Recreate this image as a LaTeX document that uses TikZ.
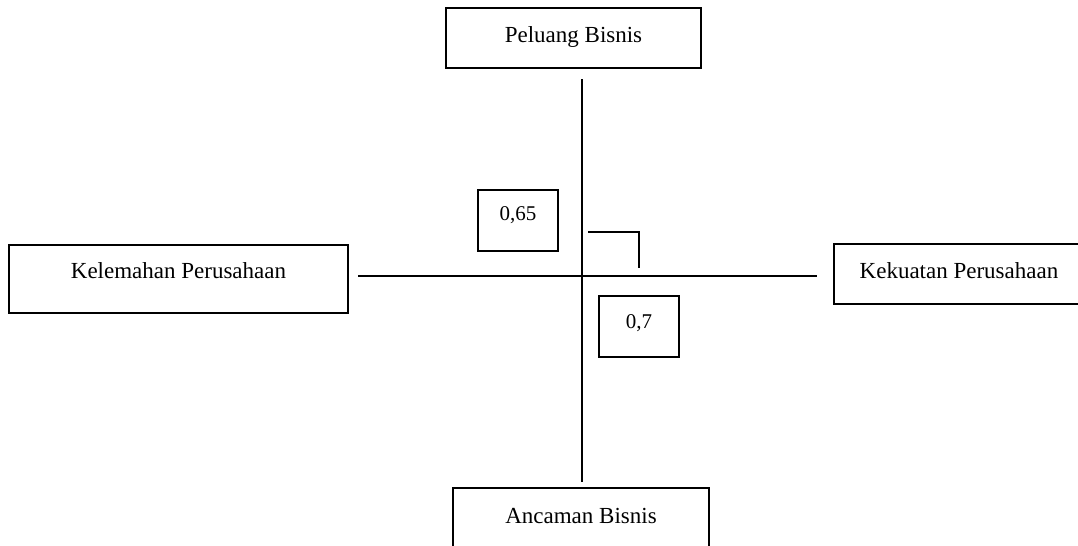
\documentclass[tikz,border=0pt]{standalone}
\usepackage{fontspec}
\setmainfont{Liberation Serif}
\usetikzlibrary{positioning}

\begin{document}
\begin{tikzpicture}[
        x=0.5pt, y=-0.5pt,
        box/.style = {draw, rectangle, inner sep=0pt, align=center, anchor=north west, line width=1pt, font=\fontsize{11.5}{14}\selectfont},
        valbox/.style = {box, minimum width=40pt, font=\fontsize{10.5}{13}\selectfont},
        axis/.style = {draw=black, line width=1pt}
    ]
        \useasboundingbox (0,0) rectangle (1078,546);
        \clip (0,0) rectangle (1078,546);

        % Quadrant labels
        \node (peluang) [box, minimum width=127.5pt, text height=17pt, text depth=13pt] at (445,7) {Peluang Bisnis};
        \node (kelemahan) [box, minimum width=169.5pt, text height=16.5pt, text depth=17.5pt] at (8,244) {Kelemahan Perusahaan};
        \node (kekuatan) [box, minimum width=125pt, text height=17pt, text depth=13pt] at (833,243) {Kekuatan Perusahaan};
        \node (ancaman) [box, minimum width=128pt, text height=17.5pt, text depth=12.5pt] at (452,487) {Ancaman Bisnis};

        % Values
        \node (v65) [valbox, text height=15pt, text depth=15.5pt] at (477,189) {0,65};
        \node (v7) [valbox, text height=16pt, text depth=14.5pt] at (598,295) {0,7};

        % Axes
        \coordinate (vtop) at (582,79);
        \coordinate (vbot) at (582,482);
        \coordinate (hleft) at (358,276);
        \coordinate (hright) at (817,276);
        \draw [axis] (vtop) -- (vbot);
        \draw [axis] (hleft) -- (hright);

        % Position mark
        \coordinate (mark1) at (588,232);
        \coordinate (mark2) at (639,268);
        \draw [axis] (mark1) -| (mark2);

    \end{tikzpicture}
\end{document}
